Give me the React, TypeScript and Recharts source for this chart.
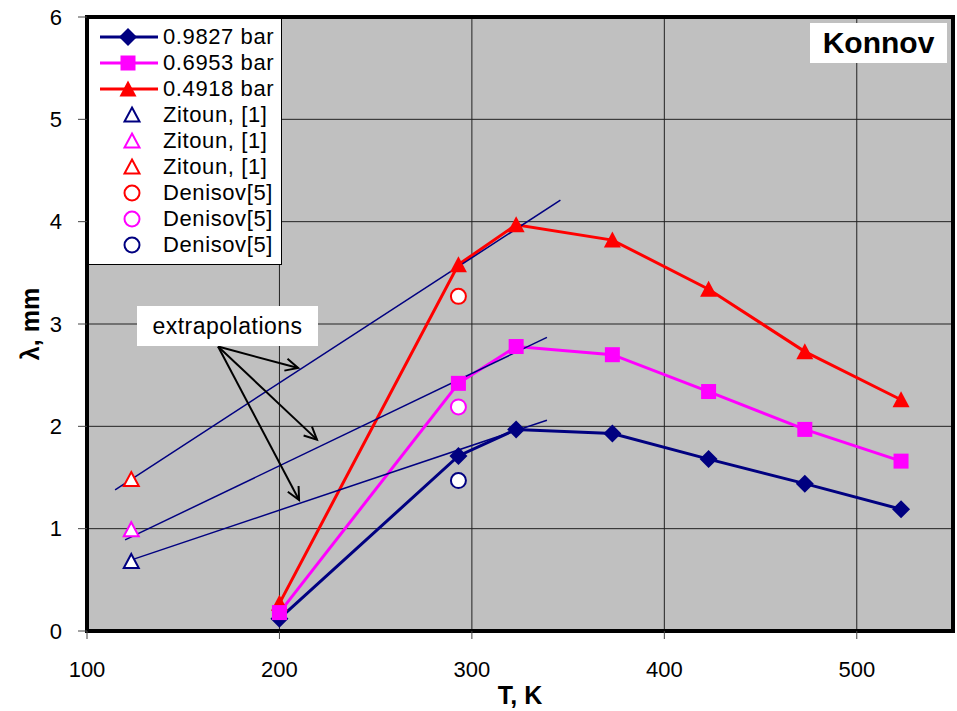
import {
  LineChart,
  Line,
  XAxis,
  YAxis,
  CartesianGrid,
  Legend,
  ReferenceArea,
  ReferenceLine,
  Label,
} from "recharts";

// Konnov mechanism, cell size λ vs initial temperature
const temperatures = [200, 293, 323, 373, 423, 473, 523];
const lambda09827 = [0.12, 1.71, 1.97, 1.93, 1.68, 1.44, 1.19];
const lambda06953 = [0.18, 2.42, 2.78, 2.7, 2.34, 1.97, 1.66];
const lambda04918 = [0.27, 3.58, 3.97, 3.82, 3.34, 2.73, 2.26];

// experimental points (order: 0.9827, 0.6953, 0.4918 bar)
const zitounT = 123;
const zitounLambda = [0.68, 0.99, 1.48];
const denisovT = 293;
const denisovLambda = [1.47, 2.19, 3.27];

// hand-drawn extrapolation lines [T, λ] start / end
const extrapUpper = [{ t: 114.6, v: 1.38 }, { t: 346, v: 4.21 }];
const extrapMiddle = [{ t: 119.8, v: 0.89 }, { t: 339, v: 2.87 }];
const extrapLower = [{ t: 123.9, v: 0.7 }, { t: 339, v: 2.06 }];

// arrows from the "extrapolations" note
const arrowFrom = { t: 168.1, v: 2.78 };
const arrowTips = [
  { t: 209.7, v: 2.57 },
  { t: 219.5, v: 1.87 },
  { t: 210.2, v: 1.28 },
];

const xTicks = [100, 200, 300, 400, 500];
const yTicks = [0, 1, 2, 3, 4, 5, 6];

const NAVY = "#000080";
const MAGENTA = "#FF00FF";
const RED = "#FF0000";
const FONT = "Arial, 'Liberation Sans', sans-serif";

const toPoints = (ts: number[], vs: number[]) => ts.map((t, i) => ({ t, v: vs[i] }));

const navyData = toPoints(temperatures, lambda09827);
const magentaData = toPoints(temperatures, lambda06953);
const redData = toPoints(temperatures, lambda04918);

type MarkerKind = "diamond" | "square" | "triangle" | "openTriangle" | "openCircle";

function Marker({ kind, cx, cy, color }: { kind: MarkerKind; cx: number; cy: number; color: string }) {
  switch (kind) {
    case "diamond":
      return <polygon points={`${cx},${cy - 9} ${cx + 9},${cy} ${cx},${cy + 9} ${cx - 9},${cy}`} fill={color} />;
    case "square":
      return <rect x={cx - 7.5} y={cy - 7.5} width={15} height={15} fill={color} />;
    case "triangle":
      return <polygon points={`${cx},${cy - 8.5} ${cx + 8.5},${cy + 7.5} ${cx - 8.5},${cy + 7.5}`} fill={color} />;
    case "openTriangle":
      return (
        <polygon
          points={`${cx},${cy - 7.5} ${cx + 7.5},${cy + 6.5} ${cx - 7.5},${cy + 6.5}`}
          fill="#fff"
          stroke={color}
          strokeWidth={2}
        />
      );
    case "openCircle":
      return <circle cx={cx} cy={cy} r={7.5} fill="#fff" stroke={color} strokeWidth={2} />;
  }
}

const dotOf = (kind: MarkerKind, color: string) => (p: any) =>
  <Marker key={`${kind}-${color}-${p.index}`} kind={kind} cx={p.cx} cy={p.cy} color={color} />;

const legendItems: { label: string; marker: MarkerKind; color: string; line?: boolean }[] = [
  { label: "0.9827 bar", marker: "diamond", color: NAVY, line: true },
  { label: "0.6953 bar", marker: "square", color: MAGENTA, line: true },
  { label: "0.4918 bar", marker: "triangle", color: RED, line: true },
  { label: "Zitoun, [1]", marker: "openTriangle", color: NAVY },
  { label: "Zitoun, [1]", marker: "openTriangle", color: MAGENTA },
  { label: "Zitoun, [1]", marker: "openTriangle", color: RED },
  { label: "Denisov[5]", marker: "openCircle", color: RED },
  { label: "Denisov[5]", marker: "openCircle", color: MAGENTA },
  { label: "Denisov[5]", marker: "openCircle", color: NAVY },
];

function LegendBox() {
  return (
    <div
      style={{
        boxSizing: "border-box",
        width: 194,
        height: 247,
        border: "1px solid #000",
        background: "#fff",
        paddingTop: 5,
        fontFamily: FONT,
      }}
    >
      {legendItems.map((it, i) => (
        <div key={i} style={{ display: "flex", alignItems: "center", height: 26 }}>
          <svg width={74} height={26} style={{ display: "block" }}>
            {it.line && <line x1={11} x2={69} y1={13} y2={13} stroke={it.color} strokeWidth={3} />}
            <Marker kind={it.marker} cx={it.line ? 39 : 43} cy={13} color={it.color} />
          </svg>
          <span
            style={{ fontSize: 22, lineHeight: "26px", letterSpacing: 0.6, color: "#000", whiteSpace: "nowrap" }}
          >
            {it.label}
          </span>
        </div>
      ))}
    </div>
  );
}

// line with an open V head at (x2, y2)
function Arrow(props: any) {
  const { x1, y1, x2, y2 } = props;
  const a = Math.atan2(y2 - y1, x2 - x1);
  const len = 14;
  const spread = 0.45;
  const h1 = [x2 - len * Math.cos(a - spread), y2 - len * Math.sin(a - spread)];
  const h2 = [x2 - len * Math.cos(a + spread), y2 - len * Math.sin(a + spread)];
  return (
    <g>
      <line x1={x1} y1={y1} x2={x2} y2={y2} stroke="#000" strokeWidth={2} />
      <polyline
        points={`${h1[0]},${h1[1]} ${x2},${y2} ${h2[0]},${h2[1]}`}
        fill="none"
        stroke="#000"
        strokeWidth={2}
      />
    </g>
  );
}

const YTitle = (props: any) => {
  const vb = props.viewBox;
  const cx = vb.x + 30;
  const cy = vb.y + vb.height / 2;
  return (
    <text
      x={cx}
      y={cy}
      transform={`rotate(-90 ${cx} ${cy})`}
      textAnchor="middle"
      dominantBaseline="central"
      fontFamily={FONT}
      fontWeight="bold"
      fontSize={25}
      fill="#000"
    >
      λ, mm
    </text>
  );
};

const XTitle = (props: any) => {
  const vb = props.viewBox;
  return (
    <text
      x={vb.x + vb.width / 2}
      y={vb.y + 73}
      textAnchor="middle"
      fontFamily={FONT}
      fontWeight="bold"
      fontSize={25}
      fill="#000"
    >
      T, K
    </text>
  );
};

export default function App() {
  const tick = { fontSize: 22, fill: "#000", fontFamily: FONT };
  return (
    <div style={{ position: "absolute", left: 0, top: 0, width: 957, height: 711, background: "#fff" }}>
      <LineChart width={957} height={711} margin={{ top: 17, right: 4, bottom: 0, left: 0 }}>
        <CartesianGrid stroke="#222" strokeWidth={1} fill="#c0c0c0" fillOpacity={1} />
        <XAxis
          type="number"
          dataKey="t"
          domain={[100, 550]}
          ticks={xTicks}
          allowDataOverflow
          height={80}
          tick={tick}
          tickSize={8}
          tickMargin={22}
          tickLine={{ stroke: "#444" }}
          axisLine={false}
        >
          <Label content={XTitle} />
        </XAxis>
        <YAxis
          type="number"
          dataKey="v"
          domain={[0, 6]}
          ticks={yTicks}
          allowDataOverflow
          width={87}
          tick={tick}
          tickSize={9}
          tickMargin={16}
          tickLine={{ stroke: "#444" }}
          axisLine={false}
        >
          <Label content={YTitle} />
        </YAxis>
        <ReferenceArea
          x1={100}
          x2={550}
          y1={0}
          y2={6}
          fill="none"
          stroke="#000"
          strokeWidth={4}
          ifOverflow="visible"
        />

        <Line data={navyData} dataKey="v" stroke={NAVY} strokeWidth={3} dot={dotOf("diamond", NAVY)} isAnimationActive={false} />
        <Line data={redData} dataKey="v" stroke={RED} strokeWidth={3} dot={dotOf("triangle", RED)} isAnimationActive={false} />
        <Line data={magentaData} dataKey="v" stroke={MAGENTA} strokeWidth={3} dot={dotOf("square", MAGENTA)} isAnimationActive={false} />

        {zitounLambda.map((v, i) => (
          <Line
            key={`z${i}`}
            data={[{ t: zitounT, v }]}
            dataKey="v"
            stroke="none"
            dot={dotOf("openTriangle", [NAVY, MAGENTA, RED][i])}
            isAnimationActive={false}
          />
        ))}
        {denisovLambda.map((v, i) => (
          <Line
            key={`d${i}`}
            data={[{ t: denisovT, v }]}
            dataKey="v"
            stroke="none"
            dot={dotOf("openCircle", [NAVY, MAGENTA, RED][i])}
            isAnimationActive={false}
          />
        ))}

        {[extrapUpper, extrapMiddle, extrapLower].map((seg, i) => (
          <Line key={`e${i}`} data={seg} dataKey="v" stroke={NAVY} strokeWidth={1.5} dot={false} isAnimationActive={false} />
        ))}

        {arrowTips.map((tip, i) => (
          <ReferenceLine
            key={`a${i}`}
            segment={[{ x: arrowFrom.t, y: arrowFrom.v }, { x: tip.t, y: tip.v }]}
            shape={Arrow}
          />
        ))}

        <Legend
          layout="vertical"
          align="center"
          verticalAlign="middle"
          content={() => <LegendBox />}
          wrapperStyle={{ left: 88, top: 18, width: 194, height: 247 }}
        />
      </LineChart>

      <div
        style={{
          position: "absolute",
          left: 137,
          top: 306,
          width: 181,
          height: 40,
          background: "#fff",
          fontFamily: FONT,
          fontSize: 23,
          letterSpacing: 0.5,
          lineHeight: "40px",
          textAlign: "center",
          color: "#000",
        }}
      >
        extrapolations
      </div>
      <div
        style={{
          position: "absolute",
          left: 810,
          top: 23,
          width: 137,
          height: 40,
          background: "#fff",
          fontFamily: FONT,
          fontSize: 30,
          fontWeight: "bold",
          lineHeight: "40px",
          textAlign: "center",
          color: "#000",
        }}
      >
        Konnov
      </div>
    </div>
  );
}
